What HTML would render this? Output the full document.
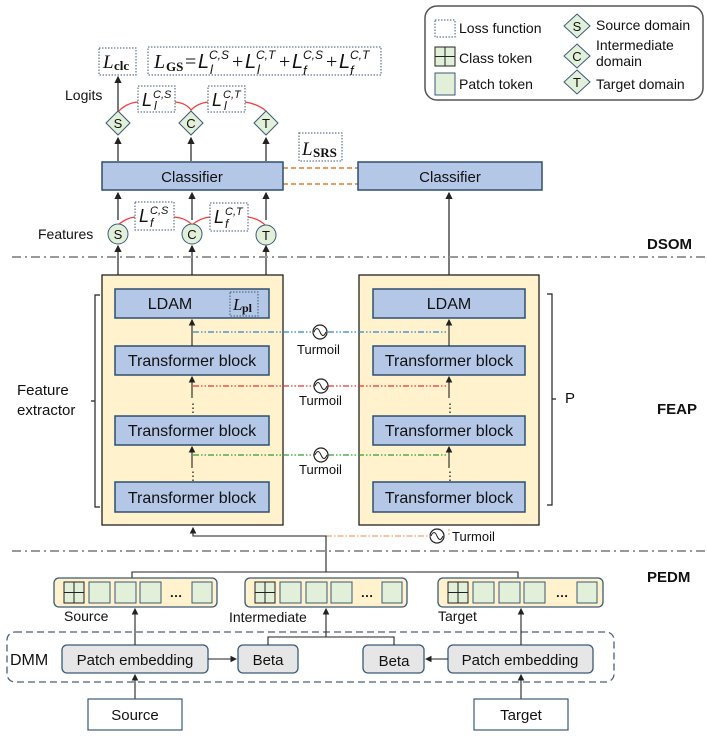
<!DOCTYPE html>
<html><head><meta charset="utf-8"><style>
html,body{margin:0;padding:0;background:#fff;}
svg{display:block;}
text{font-family:"Liberation Sans",sans-serif;fill:#111;}
.m{font-family:"Liberation Serif",serif;font-style:italic;}
.r{font-family:"Liberation Serif",serif;font-style:normal;}
</style></head><body>
<svg width="707" height="736" viewBox="0 0 707 736" xmlns="http://www.w3.org/2000/svg">
<defs>
<marker id="a" markerWidth="6" markerHeight="6" refX="5" refY="3" orient="auto"><path d="M0,0 L6,3 L0,6 z" fill="#222"/></marker>
</defs>

<!-- Legend -->
<rect x="425" y="6" width="278" height="94" rx="12" fill="#fff" stroke="#555" stroke-width="1.5"/>
<rect x="435" y="20" width="20" height="17" fill="#fff" stroke="#3a5a7a" stroke-dasharray="1.5,1.5"/>
<text x="459" y="33" font-size="14">Loss function</text>
<rect x="435" y="47" width="20" height="19" fill="#e2efd9" stroke="#222"/>
<line x1="445" y1="47" x2="445" y2="66" stroke="#222"/><line x1="435" y1="56.5" x2="455" y2="56.5" stroke="#222"/>
<text x="459" y="63" font-size="14">Class token</text>
<rect x="435" y="73" width="20" height="22" fill="#e2efd9" stroke="#3a5a7a"/>
<text x="459" y="89" font-size="14">Patch token</text>
<g font-size="13">
<polygon points="577,14 590,26 577,38 564,26" fill="#e2efd9" stroke="#3a5a7a"/><text x="577" y="31" text-anchor="middle">S</text>
<polygon points="577,44 590,56 577,68 564,56" fill="#e2efd9" stroke="#3a5a7a"/><text x="577" y="61" text-anchor="middle">C</text>
<polygon points="577,70 590,82 577,94 564,82" fill="#e2efd9" stroke="#3a5a7a"/><text x="577" y="87" text-anchor="middle">T</text>
</g>
<text x="596" y="30" font-size="14">Source domain</text>
<text x="596" y="50" font-size="14">Intermediate</text>
<text x="596" y="66" font-size="14">domain</text>
<text x="596" y="89" font-size="14">Target domain</text>

<!-- Loss boxes top -->
<rect x="99" y="48" width="37" height="27" fill="#fff" stroke="#3a5a7a" stroke-dasharray="1.5,1.5"/>
<text x="103" y="68" font-size="19" class="m">L</text><text x="114" y="70" font-size="13" class="r" font-weight="bold">clc</text>
<rect x="148" y="47" width="233" height="28" fill="#fff" stroke="#3a5a7a" stroke-dasharray="1.5,1.5"/>
<text x="154" y="68" font-size="20" class="m">L</text>
<text x="166" y="71" font-size="13" class="r" font-weight="bold">GS</text>
<text x="185" y="68" font-size="20" class="r">=</text>
<g class="m">
<text x="198" y="68" font-size="20">L</text><text x="209" y="59" font-size="12">C,S</text><text x="210" y="74" font-size="13">l</text>
<text x="232" y="68" font-size="20" class="r">+</text>
<text x="245" y="68" font-size="20">L</text><text x="256" y="59" font-size="12">C,T</text><text x="257" y="74" font-size="13">l</text>
<text x="279" y="68" font-size="20" class="r">+</text>
<text x="292" y="68" font-size="20">L</text><text x="303" y="59" font-size="12">C,S</text><text x="303" y="75" font-size="13">f</text>
<text x="326" y="68" font-size="20" class="r">+</text>
<text x="339" y="68" font-size="20">L</text><text x="350" y="59" font-size="12">C,T</text><text x="350" y="75" font-size="13">f</text>
</g>

<text x="65" y="100" font-size="14">Logits</text>
<path d="M118,112 Q126,103 138,102 M175,102 Q186,103 191,110 Q198,103 208,102 M245,102 Q258,104 266,111" fill="none" stroke="#f04040" stroke-width="1.3"/>
<rect x="138" y="86" width="37" height="26" fill="#fff" stroke="#3a5a7a" stroke-dasharray="1.5,1.5"/>
<g class="m"><text x="142" y="106" font-size="18">L</text><text x="153" y="98" font-size="11">C,S</text><text x="154" y="110" font-size="12">l</text></g>
<rect x="208" y="86" width="37" height="26" fill="#fff" stroke="#3a5a7a" stroke-dasharray="1.5,1.5"/>
<g class="m"><text x="212" y="106" font-size="18">L</text><text x="223" y="98" font-size="11">C,T</text><text x="224" y="110" font-size="12">l</text></g>

<g stroke="#222" stroke-width="1.2">
<line x1="118" y1="111" x2="118" y2="77" marker-end="url(#a)"/>
<line x1="118" y1="161" x2="118" y2="138" marker-end="url(#a)"/>
<line x1="191" y1="161" x2="191" y2="138" marker-end="url(#a)"/>
<line x1="266" y1="161" x2="266" y2="138" marker-end="url(#a)"/>
<line x1="118" y1="220" x2="118" y2="193" marker-end="url(#a)"/>
<line x1="192" y1="220" x2="192" y2="193" marker-end="url(#a)"/>
<line x1="266" y1="220" x2="266" y2="193" marker-end="url(#a)"/>
<line x1="118" y1="275" x2="118" y2="246" marker-end="url(#a)"/>
<line x1="192" y1="275" x2="192" y2="246" marker-end="url(#a)"/>
<line x1="266" y1="275" x2="266" y2="246" marker-end="url(#a)"/>
<line x1="449" y1="275" x2="449" y2="193" marker-end="url(#a)"/>
</g>
<g font-size="13">
<polygon points="118,111 130,123 118,135 106,123" fill="#e2efd9" stroke="#3a5a7a"/><text x="118" y="128" text-anchor="middle">S</text>
<polygon points="191,111 203,123 191,135 179,123" fill="#e2efd9" stroke="#3a5a7a"/><text x="191" y="128" text-anchor="middle">C</text>
<polygon points="266,111 278,123 266,135 254,123" fill="#e2efd9" stroke="#3a5a7a"/><text x="266" y="128" text-anchor="middle">T</text>
</g>

<rect x="299" y="133" width="43" height="28" fill="#fff" stroke="#3a5a7a" stroke-dasharray="1.5,1.5"/>
<text x="302" y="155" font-size="19" class="m">L</text><text x="313" y="157" font-size="13" class="r" font-weight="bold">SRS</text>
<line x1="283" y1="168" x2="358" y2="168" stroke="#e07a30" stroke-width="1.5" stroke-dasharray="5,3"/>
<line x1="283" y1="184" x2="358" y2="184" stroke="#e07a30" stroke-width="1.5" stroke-dasharray="5,3"/>

<rect x="102" y="162" width="181" height="28" fill="#b4c7e7" stroke="#2f4f6f" stroke-width="1.5"/>
<text x="192" y="182" font-size="15" text-anchor="middle">Classifier</text>
<rect x="358" y="162" width="184" height="28" fill="#b4c7e7" stroke="#2f4f6f" stroke-width="1.5"/>
<text x="450" y="182" font-size="15" text-anchor="middle">Classifier</text>

<path d="M118,225 Q126,218 135,217 M174,217 Q186,218 192,225 Q200,218 210,217 M248,217 Q260,219 266,226" fill="none" stroke="#f04040" stroke-width="1.3"/>
<rect x="135" y="202" width="39" height="28" fill="#fff" stroke="#3a5a7a" stroke-dasharray="1.5,1.5"/>
<g class="m"><text x="139" y="222" font-size="18">L</text><text x="150" y="214" font-size="11">C,S</text><text x="150" y="227" font-size="12">f</text></g>
<rect x="210" y="203" width="38" height="28" fill="#fff" stroke="#3a5a7a" stroke-dasharray="1.5,1.5"/>
<g class="m"><text x="214" y="223" font-size="18">L</text><text x="225" y="215" font-size="11">C,T</text><text x="225" y="228" font-size="12">f</text></g>
<text x="38" y="239" font-size="14">Features</text>
<g font-size="13">
<circle cx="118" cy="234" r="10" fill="#e2efd9" stroke="#3a5a7a"/><text x="118" y="239" text-anchor="middle">S</text>
<circle cx="192" cy="234" r="10" fill="#e2efd9" stroke="#3a5a7a"/><text x="192" y="239" text-anchor="middle">C</text>
<circle cx="266" cy="235" r="10" fill="#e2efd9" stroke="#3a5a7a"/><text x="266" y="240" text-anchor="middle">T</text>
</g>

<line x1="12" y1="257" x2="705" y2="257" stroke="#999" stroke-width="2" stroke-dasharray="9,4,2,4"/>
<line x1="12" y1="551" x2="705" y2="551" stroke="#999" stroke-width="2" stroke-dasharray="9,4,2,4"/>
<text x="647" y="249" font-size="15" font-weight="bold">DSOM</text>
<text x="657" y="414" font-size="15" font-weight="bold">FEAP</text>
<text x="647" y="582" font-size="15" font-weight="bold">PEDM</text>

<rect x="102" y="275" width="181" height="250" fill="#fff2cc" stroke="#222" stroke-width="1.3"/>
<rect x="359" y="275" width="180" height="250" fill="#fff2cc" stroke="#222" stroke-width="1.3"/>
<g stroke="#2f4f6f" stroke-width="1.5" fill="#b4c7e7">
<rect x="115" y="289" width="154" height="29"/>
<rect x="115" y="346" width="154" height="29"/>
<rect x="115" y="416" width="154" height="29"/>
<rect x="115" y="482" width="154" height="30"/>
<rect x="373" y="289" width="152" height="29"/>
<rect x="373" y="346" width="152" height="29"/>
<rect x="373" y="416" width="152" height="29"/>
<rect x="373" y="482" width="152" height="30"/>
</g>
<rect x="230" y="292" width="28" height="24" fill="none" stroke="#3a5a7a" stroke-dasharray="1.5,1.5"/>
<text x="233" y="310" font-size="17" class="m">L</text><text x="242" y="312" font-size="12" class="r" font-weight="bold">pl</text>
<g font-size="16" text-anchor="middle">
<text x="170" y="309">LDAM</text><text x="449" y="309">LDAM</text>
<text x="192" y="366">Transformer block</text><text x="449" y="366">Transformer block</text>
<text x="192" y="436">Transformer block</text><text x="449" y="436">Transformer block</text>
<text x="192" y="503">Transformer block</text><text x="449" y="503">Transformer block</text>
</g>
<g stroke="#222" stroke-width="1.1">
<line x1="192" y1="346" x2="192" y2="320" marker-end="url(#a)"/>
<line x1="449" y1="346" x2="449" y2="320" marker-end="url(#a)"/>
<line x1="192" y1="398" x2="192" y2="377" marker-end="url(#a)"/>
<line x1="449" y1="398" x2="449" y2="377" marker-end="url(#a)"/>
<line x1="192" y1="468" x2="192" y2="447" marker-end="url(#a)"/>
<line x1="449" y1="468" x2="449" y2="447" marker-end="url(#a)"/>
</g>
<g fill="#333" font-size="12" text-anchor="middle">
<text x="193" y="412">⋮</text><text x="450" y="412">⋮</text>
<text x="193" y="480">⋮</text><text x="450" y="480">⋮</text>
</g>
<line x1="193" y1="332" x2="447" y2="332" stroke="#2a85d0" stroke-width="1.2" stroke-dasharray="6,2,1.5,2,1.5,2"/>
<line x1="193" y1="386" x2="447" y2="386" stroke="#f03030" stroke-width="1.2" stroke-dasharray="6,2,1.5,2,1.5,2"/>
<line x1="193" y1="455" x2="447" y2="455" stroke="#30a030" stroke-width="1.2" stroke-dasharray="6,2,1.5,2,1.5,2"/>
<g fill="#fff" stroke="#222" stroke-width="1.2">
<circle cx="320" cy="332" r="7"/><circle cx="321" cy="386" r="7"/><circle cx="321" cy="455" r="7"/><circle cx="437" cy="536" r="7"/>
</g>
<g fill="none" stroke="#222" stroke-width="1">
<path d="M314,332 q3,-7 6,0 q3,7 6,0"/><path d="M315,386 q3,-7 6,0 q3,7 6,0"/><path d="M315,455 q3,-7 6,0 q3,7 6,0"/><path d="M431,536 q3,-7 6,0 q3,7 6,0"/>
</g>
<g font-size="13">
<text x="297" y="354">Turmoil</text><text x="299" y="405">Turmoil</text><text x="299" y="474">Turmoil</text><text x="452" y="541">Turmoil</text>
</g>
<line x1="326" y1="536" x2="430" y2="536" stroke="#f0a070" stroke-width="1.2" stroke-dasharray="6,2,1.5,2"/>
<line x1="449" y1="529" x2="449" y2="536" stroke="#f0a070" stroke-width="1.2" stroke-dasharray="2,2"/>
<polyline points="326,572 326,536 193,536 193,528" fill="none" stroke="#222" stroke-width="1.1" marker-end="url(#a)"/>

<path d="M100,295 L95,295 L95,507 L100,507 M95,401 L91,401" fill="none" stroke="#222" stroke-width="1.2"/>
<path d="M547,294 L552,294 L552,505 L547,505 M552,399 L556,399" fill="none" stroke="#222" stroke-width="1.2"/>
<text x="17" y="395" font-size="15">Feature</text>
<text x="17" y="415" font-size="15">extractor</text>
<text x="565" y="403" font-size="15">P</text>

<polyline points="132,578 132,572 518,572 518,578" fill="none" stroke="#222" stroke-width="1.1"/>
<g stroke="#3a5a7a" stroke-width="1.3">
<rect x="54" y="578" width="163" height="29" rx="5" fill="#fff2cc"/>
<rect x="245" y="578" width="162" height="29" rx="5" fill="#fff2cc"/>
<rect x="438" y="578" width="165" height="29" rx="5" fill="#fff2cc"/>
</g>
<g fill="#e2efd9" stroke="#3a5a7a" stroke-width="1">
<rect x="64" y="582" width="20" height="21" stroke="#222"/><rect x="89" y="582" width="21" height="21"/><rect x="115" y="582" width="21" height="21"/><rect x="140" y="582" width="21" height="21"/><rect x="192" y="582" width="20" height="21"/>
<rect x="255" y="582" width="20" height="21" stroke="#222"/><rect x="280" y="582" width="21" height="21"/><rect x="306" y="582" width="21" height="21"/><rect x="331" y="582" width="21" height="21"/><rect x="382" y="582" width="20" height="21"/>
<rect x="448" y="582" width="20" height="21" stroke="#222"/><rect x="473" y="582" width="21" height="21"/><rect x="499" y="582" width="21" height="21"/><rect x="524" y="582" width="21" height="21"/><rect x="577" y="582" width="20" height="21"/>
</g>
<g stroke="#222" stroke-width="1">
<line x1="74" y1="582" x2="74" y2="603"/><line x1="64" y1="592.5" x2="84" y2="592.5"/>
<line x1="265" y1="582" x2="265" y2="603"/><line x1="255" y1="592.5" x2="275" y2="592.5"/>
<line x1="458" y1="582" x2="458" y2="603"/><line x1="448" y1="592.5" x2="468" y2="592.5"/>
</g>
<g font-size="13" font-weight="bold" text-anchor="middle"><text x="176" y="597">…</text><text x="367" y="597">…</text><text x="562" y="597">…</text></g>
<text x="64" y="621" font-size="14">Source</text>
<text x="229" y="622" font-size="14">Intermediate</text>
<text x="438" y="621" font-size="14">Target</text>

<rect x="7" y="632" width="607" height="50" rx="8" fill="none" stroke="#4a6078" stroke-width="1.3" stroke-dasharray="7,4"/>
<text x="10" y="665" font-size="16">DMM</text>
<g fill="#e6e6e6" stroke="#3a5a7a" stroke-width="1.3">
<rect x="62" y="645" width="146" height="28" rx="5"/>
<rect x="238" y="645" width="60" height="28" rx="5"/>
<rect x="363" y="645" width="61" height="28" rx="5"/>
<rect x="448" y="645" width="145" height="28" rx="5"/>
</g>
<g font-size="15" text-anchor="middle">
<text x="135" y="665">Patch embedding</text><text x="268" y="665">Beta</text><text x="394" y="666">Beta</text><text x="520" y="665">Patch embedding</text>
</g>
<g stroke="#222" stroke-width="1.1" fill="none">
<line x1="135" y1="645" x2="135" y2="609" marker-end="url(#a)"/>
<line x1="521" y1="645" x2="521" y2="609" marker-end="url(#a)"/>
<line x1="208" y1="659" x2="236" y2="659" marker-end="url(#a)"/>
<line x1="448" y1="659" x2="426" y2="659" marker-end="url(#a)"/>
<polyline points="268,645 268,637 394,637 394,645"/>
<line x1="326" y1="637" x2="326" y2="609" marker-end="url(#a)"/>
<line x1="135" y1="699" x2="135" y2="675" marker-end="url(#a)"/>
<line x1="521" y1="699" x2="521" y2="675" marker-end="url(#a)"/>
</g>
<rect x="88" y="699" width="94" height="31" fill="#fff" stroke="#3a5a7a" stroke-width="1.2"/>
<rect x="474" y="699" width="94" height="31" fill="#fff" stroke="#3a5a7a" stroke-width="1.2"/>
<text x="135" y="720" font-size="15" text-anchor="middle">Source</text>
<text x="521" y="720" font-size="15" text-anchor="middle">Target</text>
</svg>
</body></html>
